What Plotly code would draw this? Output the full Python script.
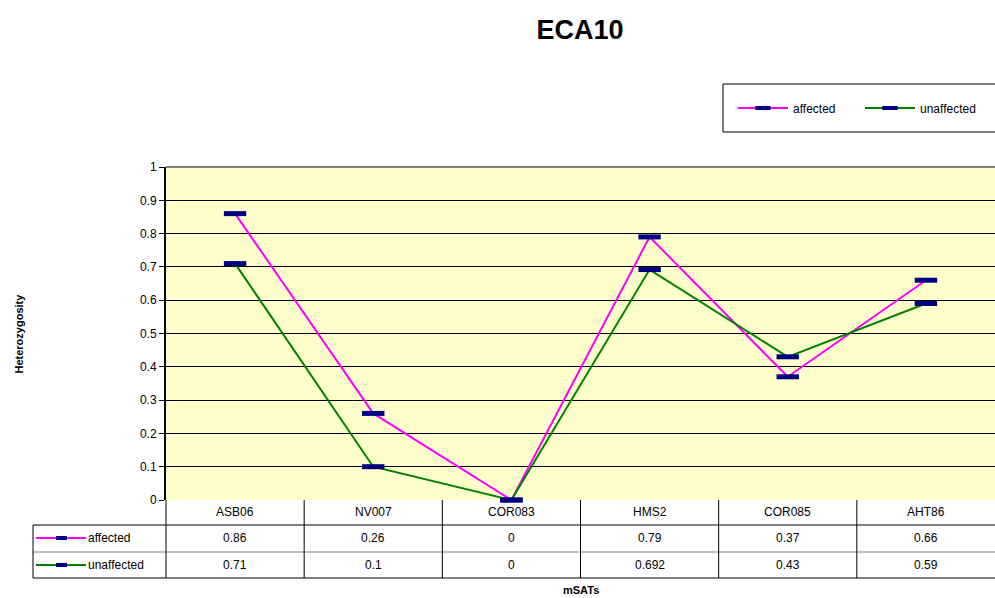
import plotly.graph_objects as go

categories = ["ASB06", "NV007", "COR083", "HMS2", "COR085", "AHT86"]
affected = [0.86, 0.26, 0, 0.79, 0.37, 0.66]
unaffected = [0.71, 0.1, 0, 0.692, 0.43, 0.59]
affected_labels = ["0.86", "0.26", "0", "0.79", "0.37", "0.66"]
unaffected_labels = ["0.71", "0.1", "0", "0.692", "0.43", "0.59"]
series = [("affected", affected, affected_labels, "#FF00FF"),
          ("unaffected", unaffected, unaffected_labels, "#008000")]

W, H = 995, 598
ML, MR, MT, MB = 166, 0, 167, 98
PW = W - ML - MR
PH = H - MT - MB
FONT = "Liberation Sans, Arial, sans-serif"
NAVY = "#000080"


def px(x):
    return (x - ML) / PW


def py(y):
    return (H - MB - y) / PH


fig = go.Figure()
xs = list(range(len(categories)))
for name, vals, _, col in series:
    fig.add_trace(go.Scatter(
        x=xs, y=vals, name=name, mode="lines+markers",
        line=dict(color=col, width=2),
        marker=dict(symbol="line-ew", size=16, color=NAVY,
                    line=dict(color=NAVY, width=5)),
        cliponaxis=False, showlegend=False, legendgroup=name,
    ))
# legend entries (smaller key marker, as in the reference)
for name, vals, _, col in series:
    fig.add_trace(go.Scatter(
        x=[None], y=[None], name=name, mode="lines+markers",
        line=dict(color=col, width=2),
        marker=dict(symbol="line-ew", size=11, color=NAVY,
                    line=dict(color=NAVY, width=4)),
        showlegend=True, legendgroup=name,
    ))

shapes = []
annotations = []
TF = dict(family=FONT, size=12, color="black")

# horizontal table lines
for yy, colr in [(525, "black"), (552, "#808080"), (578, "black")]:
    shapes.append(dict(type="line", xref="paper", yref="paper",
                       x0=px(33), x1=1, y0=py(yy), y1=py(yy),
                       line=dict(color=colr, width=1)))
# vertical lines
shapes.append(dict(type="line", xref="paper", yref="paper",
                   x0=px(33), x1=px(33), y0=py(525), y1=py(578),
                   line=dict(color="black", width=1)))
shapes.append(dict(type="line", xref="paper", yref="paper",
                   x0=0, x1=0, y0=py(500), y1=py(578),
                   line=dict(color="black", width=1)))
for k in range(len(categories) - 1):
    shapes.append(dict(type="line", xref="x", yref="paper",
                       x0=k + 0.5, x1=k + 0.5, y0=py(500), y1=py(578),
                       line=dict(color="black", width=1)))

# category labels and values
for i, c in enumerate(categories):
    annotations.append(dict(x=i, y=py(512), xref="x", yref="paper",
                            xanchor="center", yanchor="middle",
                            text=c, showarrow=False, font=TF))
for r, (name, vals, labels, col) in enumerate(series):
    yc = py(538 + r * 27)
    for i, t in enumerate(labels):
        annotations.append(dict(x=i, y=yc, xref="x", yref="paper",
                                xanchor="center", yanchor="middle",
                                text=t, showarrow=False, font=TF))
    # legend key in table
    shapes.append(dict(type="line", xref="paper", yref="paper",
                       x0=px(36), x1=px(86), y0=yc, y1=yc,
                       line=dict(color=col, width=2)))
    shapes.append(dict(type="rect", xref="paper", yref="paper",
                       x0=px(56), x1=px(67), y0=yc - 2 / PH, y1=yc + 2 / PH,
                       fillcolor=NAVY, line=dict(width=0)))
    annotations.append(dict(x=px(86), y=yc, xref="paper", yref="paper",
                            xanchor="left", yanchor="middle",
                            text=name, showarrow=False, font=TF))

# top legend box
shapes.append(dict(type="rect", xref="paper", yref="paper",
                   x0=px(723), x1=px(1000), y0=py(132), y1=py(84),
                   line=dict(color="black", width=1), fillcolor="rgba(0,0,0,0)"))

# plot area top border
shapes.append(dict(type="line", xref="paper", yref="paper",
                   x0=0, x1=1, y0=1, y1=1,
                   line=dict(color="#808080", width=2)))

# axis titles
annotations.append(dict(x=px(18), y=0.5, xref="paper", yref="paper",
                        xanchor="center", yanchor="middle",
                        text="<b>Heterozygosity</b>", textangle=-90,
                        showarrow=False,
                        font=dict(family=FONT, size=11, color="black")))
annotations.append(dict(x=0.5, y=py(590), xref="paper", yref="paper",
                        xanchor="center", yanchor="middle",
                        text="<b>mSATs</b>", showarrow=False,
                        font=dict(family=FONT, size=11, color="black")))

fig.update_layout(
    width=W, height=H,
    margin=dict(l=ML, r=MR, t=MT, b=MB, autoexpand=False),
    paper_bgcolor="white",
    plot_bgcolor="#FFFFCC",
    title=dict(text="<b>ECA10</b>", xref="paper", x=px(580), xanchor="center",
               yref="container", y=1 - 30 / H, yanchor="middle",
               font=dict(family=FONT, size=27, color="black")),
    showlegend=True,
    legend=dict(orientation="h", x=px(733), y=py(108), xanchor="left",
                yanchor="middle", bgcolor="rgba(0,0,0,0)",
                font=TF, itemwidth=50, entrywidth=62,
                entrywidthmode="pixels", traceorder="normal"),
    shapes=shapes,
    annotations=annotations,
    xaxis=dict(range=[-0.5, len(categories) - 0.5], showticklabels=False,
               showgrid=False, zeroline=False, showline=False, ticks="",
               fixedrange=True),
    yaxis=dict(range=[0, 1], dtick=0.1, tick0=0, tickformat="~g",
               showgrid=True, gridcolor="black", gridwidth=1,
               zeroline=False, showline=True, linecolor="black", linewidth=2,
               ticks="outside", ticklen=5, tickcolor="black",
               tickfont=TF),
)

fig.write_html("out.html", config={"displayModeBar": False},
               post_script="document.body.style.margin='0';"
                           "document.body.style.overflow='hidden';")
